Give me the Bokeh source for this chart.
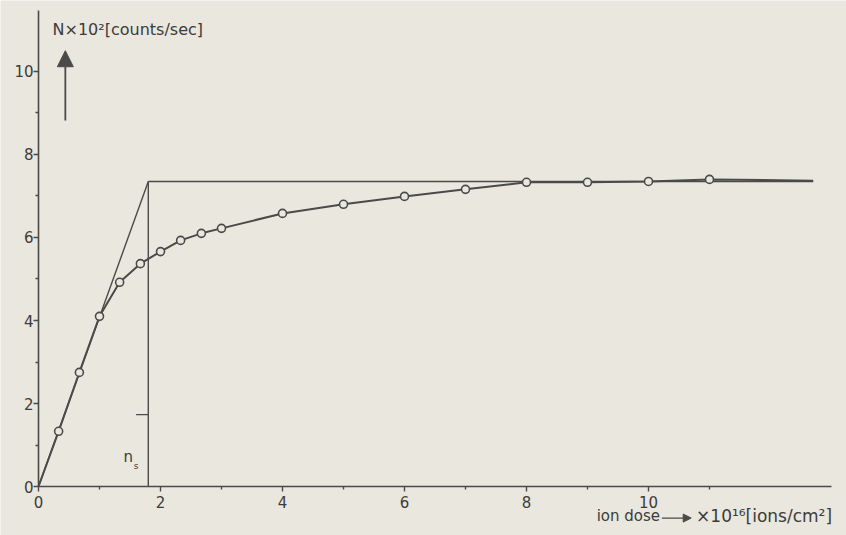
from bokeh.plotting import figure
from bokeh.models import FixedTicker, Label, Arrow, NormalHead, ColumnDataSource
from bokeh.embed import file_html
from bokeh.resources import INLINE

# ---- data ----
dose = [0.33, 0.67, 1.0, 1.33, 1.67, 2.0, 2.33, 2.67, 3.0, 4, 5, 6, 7, 8, 9, 10, 11]
counts = [1.33, 2.75, 4.1, 4.92, 5.37, 5.66, 5.93, 6.1, 6.22, 6.58, 6.8, 6.99, 7.16, 7.33, 7.33, 7.35, 7.4]
curve_dose = [0] + dose + [12.7]
curve_counts = [0] + counts + [7.37]
n_s = 1.8            # saturation dose
N_sat = 7.35         # saturation count rate
x_major = [0, 2, 4, 6, 8, 10]
x_minor = [1, 3, 5, 7, 9, 11]
y_major = [0, 2, 4, 6, 8, 10]
y_minor = [1, 3, 5, 7, 9]
X_END = 13.0
Y_TOP = 11.47

BG = "#e9e7de"
INK = "#4a4a48"
TXT = "#3c3c3a"
FONT = "DejaVu Sans"

p = figure(width=846, height=535, output_backend="svg", toolbar_location=None,
           x_range=(-0.623, 13.246), y_range=(-1.18, 11.71),
           min_border_left=0, min_border_right=0, min_border_top=0, min_border_bottom=0)
p.background_fill_color = BG
p.border_fill_color = BG
p.outline_line_color = None
p.grid.visible = False

for ax, maj, mnr in ((p.xaxis[0], x_major, x_minor), (p.yaxis[0], y_major, y_minor)):
    ax.ticker = FixedTicker(ticks=maj, minor_ticks=mnr)
    ax.fixed_location = 0
    ax.axis_line_color = None
    ax.major_tick_line_color = INK
    ax.minor_tick_line_color = INK
    ax.major_tick_line_width = 1.4
    ax.minor_tick_line_width = 1.4
    ax.major_tick_in = 0
    ax.major_tick_out = 5
    ax.minor_tick_in = 0
    ax.minor_tick_out = 3
    ax.major_label_text_font = FONT
    ax.major_label_text_font_size = "15px"
    ax.major_label_text_color = TXT
p.xaxis[0].major_label_standoff = 4
p.yaxis[0].major_label_standoff = 0

# axis lines
p.line([0, 0], [0, Y_TOP], line_color=INK, line_width=1.6)
p.line([0, X_END], [0, 0], line_color=INK, line_width=1.6)

# construction lines: initial tangent, saturation level, saturation dose
p.line([0, n_s], [0, N_sat], line_color=INK, line_width=1.4)
p.line([n_s, curve_dose[-1]], [N_sat, N_sat], line_color=INK, line_width=1.4)
p.line([n_s, n_s], [0, N_sat], line_color=INK, line_width=1.4)
p.line([n_s - 0.2, n_s], [1.73, 1.73], line_color=INK, line_width=1.2)

# measured curve
p.line(curve_dose, curve_counts, line_color=INK, line_width=2.0)
src = ColumnDataSource(dict(x=dose, y=counts))
p.scatter("x", "y", source=src, size=8, fill_color=BG, line_color=INK, line_width=1.6)

# labels
p.add_layout(Label(x=0.23, y=11.0, text="N×10²[counts/sec]", text_font=FONT,
                   text_font_size="16px", text_color=TXT, text_baseline="middle"))
p.add_layout(Arrow(x_start=0.44, y_start=8.82, x_end=0.44, y_end=10.5,
                   line_color=INK, line_width=1.8,
                   end=NormalHead(size=16, fill_color=INK, line_color=INK)))
p.add_layout(Label(x=1.47, y=0.7, text="n", text_font=FONT, text_font_size="15px",
                   text_color=TXT, text_baseline="middle", text_align="center"))
p.add_layout(Label(x=1.6, y=0.5, text="s", text_font=FONT, text_font_size="9px",
                   text_color=TXT, text_baseline="middle", text_align="center"))

p.add_layout(Label(x=9.15, y=-0.72, text="ion dose", text_font=FONT, text_font_size="15px",
                   text_color=TXT, text_baseline="middle"))
p.add_layout(Arrow(x_start=10.22, y_start=-0.76, x_end=10.7, y_end=-0.76,
                   line_color=INK, line_width=1.2,
                   end=NormalHead(size=8, fill_color=INK, line_color=INK)))
p.add_layout(Label(x=10.78, y=-0.72, text="×10¹⁶[ions/cm²]", text_font=FONT,
                   text_font_size="17px", text_color=TXT, text_baseline="middle"))

open("out.html", "w").write(file_html(p, INLINE))
